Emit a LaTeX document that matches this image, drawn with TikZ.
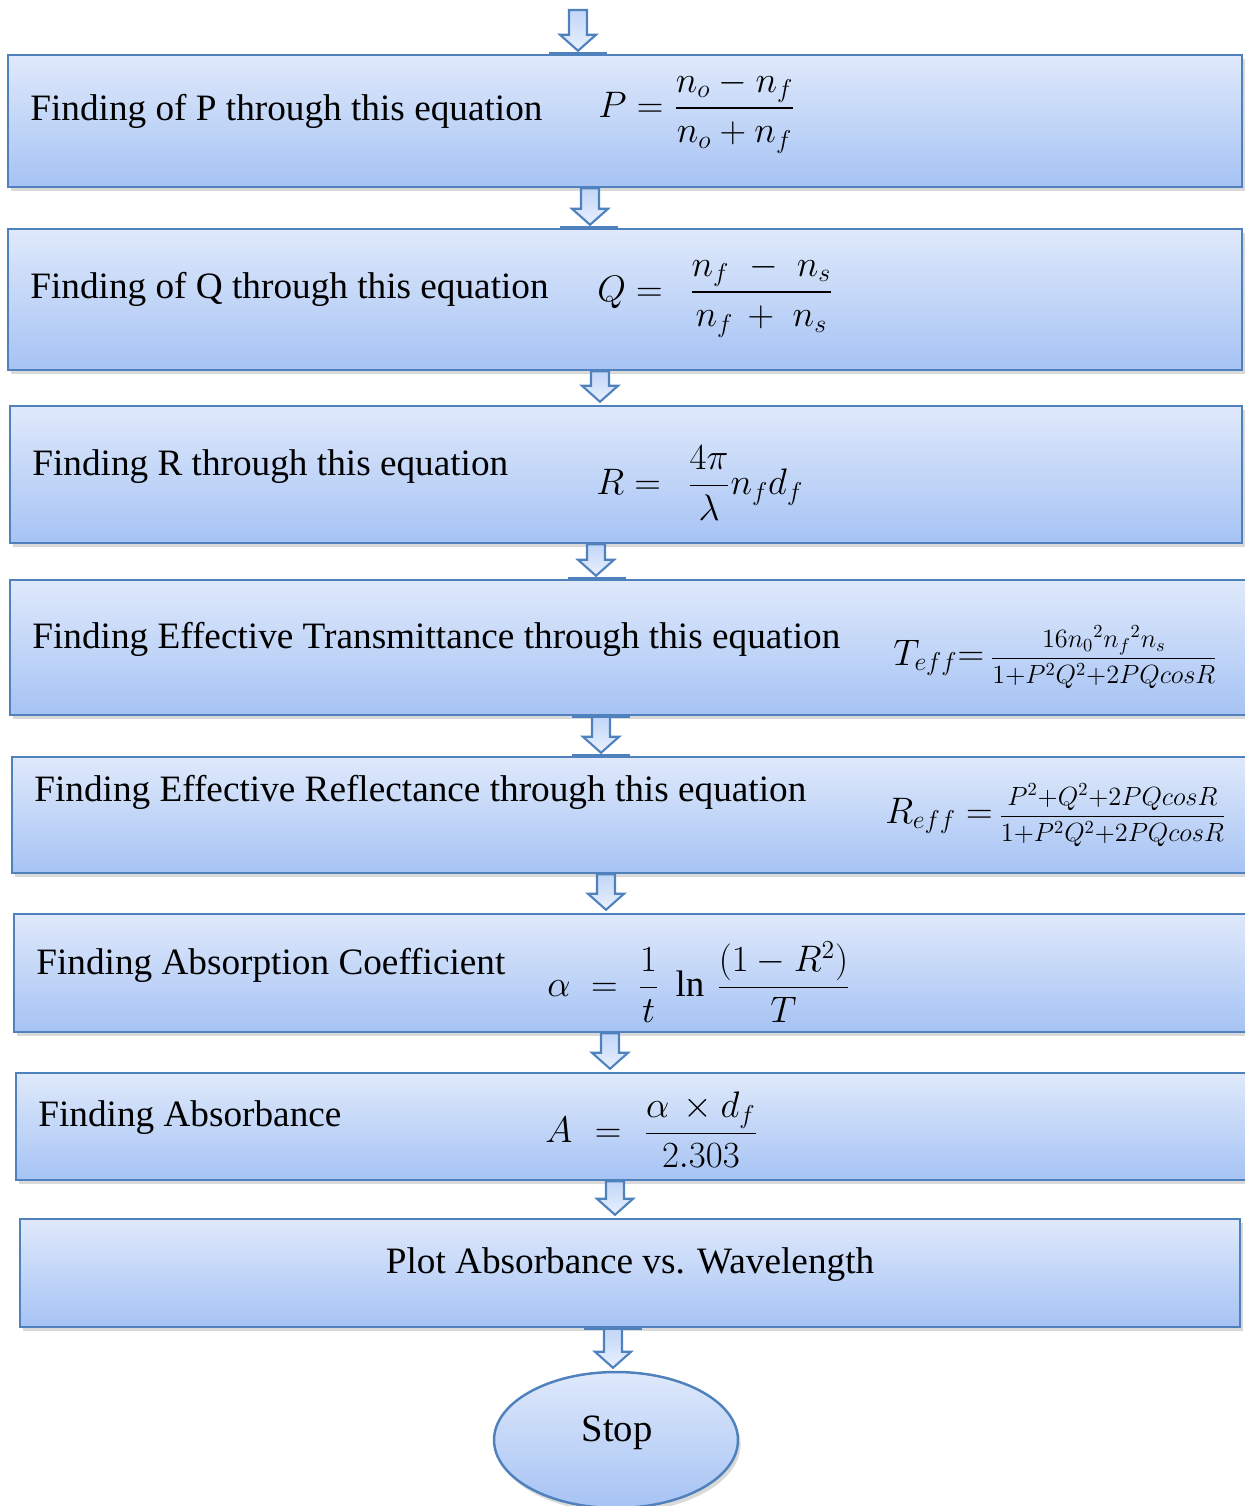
\documentclass[tikz,border=0pt]{standalone}
\usepackage{fix-cm}
\usepackage{amsmath}
\usepackage{fontspec}
\setmainfont{Liberation Serif}
\usetikzlibrary{calc,shapes.geometric,shadows}
\definecolor{boxline}{HTML}{4F81BD}
\definecolor{boxtop}{HTML}{DFE9FB}
\definecolor{boxbot}{HTML}{A6C3F4}
\definecolor{arrtop}{HTML}{C2D6F8}
\definecolor{arrbot}{HTML}{E8F0FD}
\tikzset{
  stepbox/.style={draw=boxline,line width=1.4pt,top color=boxtop,bottom color=boxbot,inner sep=0pt,
    drop shadow={shadow xshift=1.5pt,shadow yshift=-2.5pt,opacity=.3}},
  steptext/.style={anchor=base west,inner sep=0pt,font=\fontsize{21.2}{25}\selectfont},
  formula/.style={anchor=west,inner sep=0pt,font=\fontsize{21}{25}\selectfont},
  flowarrow/.style={draw=boxline,line width=1.2pt,line join=miter,top color=arrtop,bottom color=arrbot},
  basemark/.style={draw=boxline,line width=2.3pt}
}
\newcommand\flowdown[2]{\path[flowarrow] let \p1=#1, \p2=#2 in
  (\x1-0.18cm,\y1) -- (\x1+0.18cm,\y1) -- (\x1+0.18cm,\y2+0.38cm) -- (\x1+0.36cm,\y2+0.38cm)
  -- (\x1,\y2+0.06cm) -- (\x1-0.36cm,\y2+0.38cm) -- (\x1-0.18cm,\y2+0.38cm) -- cycle;}

\begin{document}
\begin{tikzpicture}[x=0.02cm,y=-0.02cm]
\useasboundingbox (0,0) rectangle (1244,1506);
\node[stepbox,minimum width=24.68cm,minimum height=2.64cm] (b1) at (625,121) {};
\node[stepbox,minimum width=24.68cm,minimum height=2.82cm] (b2) at (625,299.5) {};
\node[stepbox,minimum width=24.64cm,minimum height=2.74cm] (b3) at (626,474.5) {};
\node[stepbox,minimum width=24.72cm,minimum height=2.70cm] (b4) at (628,647.5) {};
\node[stepbox,minimum width=24.68cm,minimum height=2.32cm] (b5) at (629,815) {};
\node[stepbox,minimum width=24.64cm,minimum height=2.36cm] (b6) at (630,973) {};
\node[stepbox,minimum width=24.60cm,minimum height=2.14cm] (b7) at (631,1126.5) {};
\node[stepbox,minimum width=24.40cm,minimum height=2.16cm] (b8) at (630,1273) {};
\node[stepbox,ellipse,minimum width=4.88cm,minimum height=2.72cm] (stop) at (616,1440) {};

\node[steptext] (t1) at (30,121) {Finding of P through this equation};
\node[steptext] (t2) at (30,299) {Finding of Q through this equation};
\node[steptext] (t3) at (32,476) {Finding R through this equation};
\node[steptext] (t4) at (32,648) {Finding Effective Transmittance through this equation};
\node[steptext] (t5) at (34,801) {Finding Effective Reflectance through this equation};
\node[steptext] (t6) at (36,974) {Finding Absorption Coefficient};
\node[steptext] (t7) at (38,1126) {Finding Absorbance};
\node[steptext,anchor=base] (t8) at (630,1273) {Plot Absorbance vs. Wavelength};
\node[steptext,anchor=base,font=\fontsize{22}{26}\selectfont] (t9) at (617,1441) {Stop};

\node[formula] (f1) at (598,112) {$P=\dfrac{n_o-n_f}{n_o+n_f}$};
\node[formula] (f2) at (597,296) {$Q=\;\,\dfrac{n_f\,\,-\;n_s}{n_f\,+\;n_s}$};
\node[formula] (f3) at (596,483) {$R=\;\,\dfrac{4\pi}{\lambda}n_f d_f$};
\node[formula] (f4) at (893,657) {$T_{eff}{=}\,$\fontsize{15}{18}\selectfont$\dfrac{16{n_0}^2{n_f}^2n_s}{1{+}P^2Q^2{+}2PQcosR}$};
\node[formula] (f5) at (885,815) {$R_{eff}\;{=}\,$\fontsize{15}{18}\selectfont$\dfrac{P^2{+}Q^2{+}2PQcosR}{1{+}P^2Q^2{+}2PQcosR}$};
\node[formula] (f6) at (547,982) {$\alpha\;=\;\dfrac{1}{t}\;\ln\,\dfrac{(1-R^2)}{\;T\;}$};
\node[formula] (f7) at (545,1130) {$A\,\,=\,\,\dfrac{\alpha\,\times d_f}{2.303}$};

\coordinate (start) at (578,10);
\flowdown{(start)}{(b1.north)}
\flowdown{($(b1.south)+(-35,0)$)}{(b2.north)}
\flowdown{($(b2.south)+(-25,0)$)}{(b3.north)}
\flowdown{($(b3.south)+(-30,0)$)}{(b4.north)}
\flowdown{($(b4.south)+(-27,0)$)}{(b5.north)}
\flowdown{($(b5.south)+(-23,0)$)}{(b6.north)}
\flowdown{($(b6.south)+(-20,0)$)}{(b7.north)}
\flowdown{($(b7.south)+(-16,0)$)}{(b8.north)}
\flowdown{($(b8.south)+(-17,0)$)}{(stop.north)}

\draw[basemark] ($(b1.north)+(-76,0)$) -- ++(58,0);
\draw[basemark] ($(b2.north)+(-65,0)$) -- ++(58,0);
\draw[basemark] ($(b4.north)+(-60,0)$) -- ++(58,0);
\draw[basemark] ($(b4.south)+(-56,0)$) -- ++(58,0);
\draw[basemark] ($(b5.north)+(-57,0)$) -- ++(58,0);
\draw[basemark] ($(b8.south)+(-46,0)$) -- ++(58,0);
\end{tikzpicture}
\end{document}
